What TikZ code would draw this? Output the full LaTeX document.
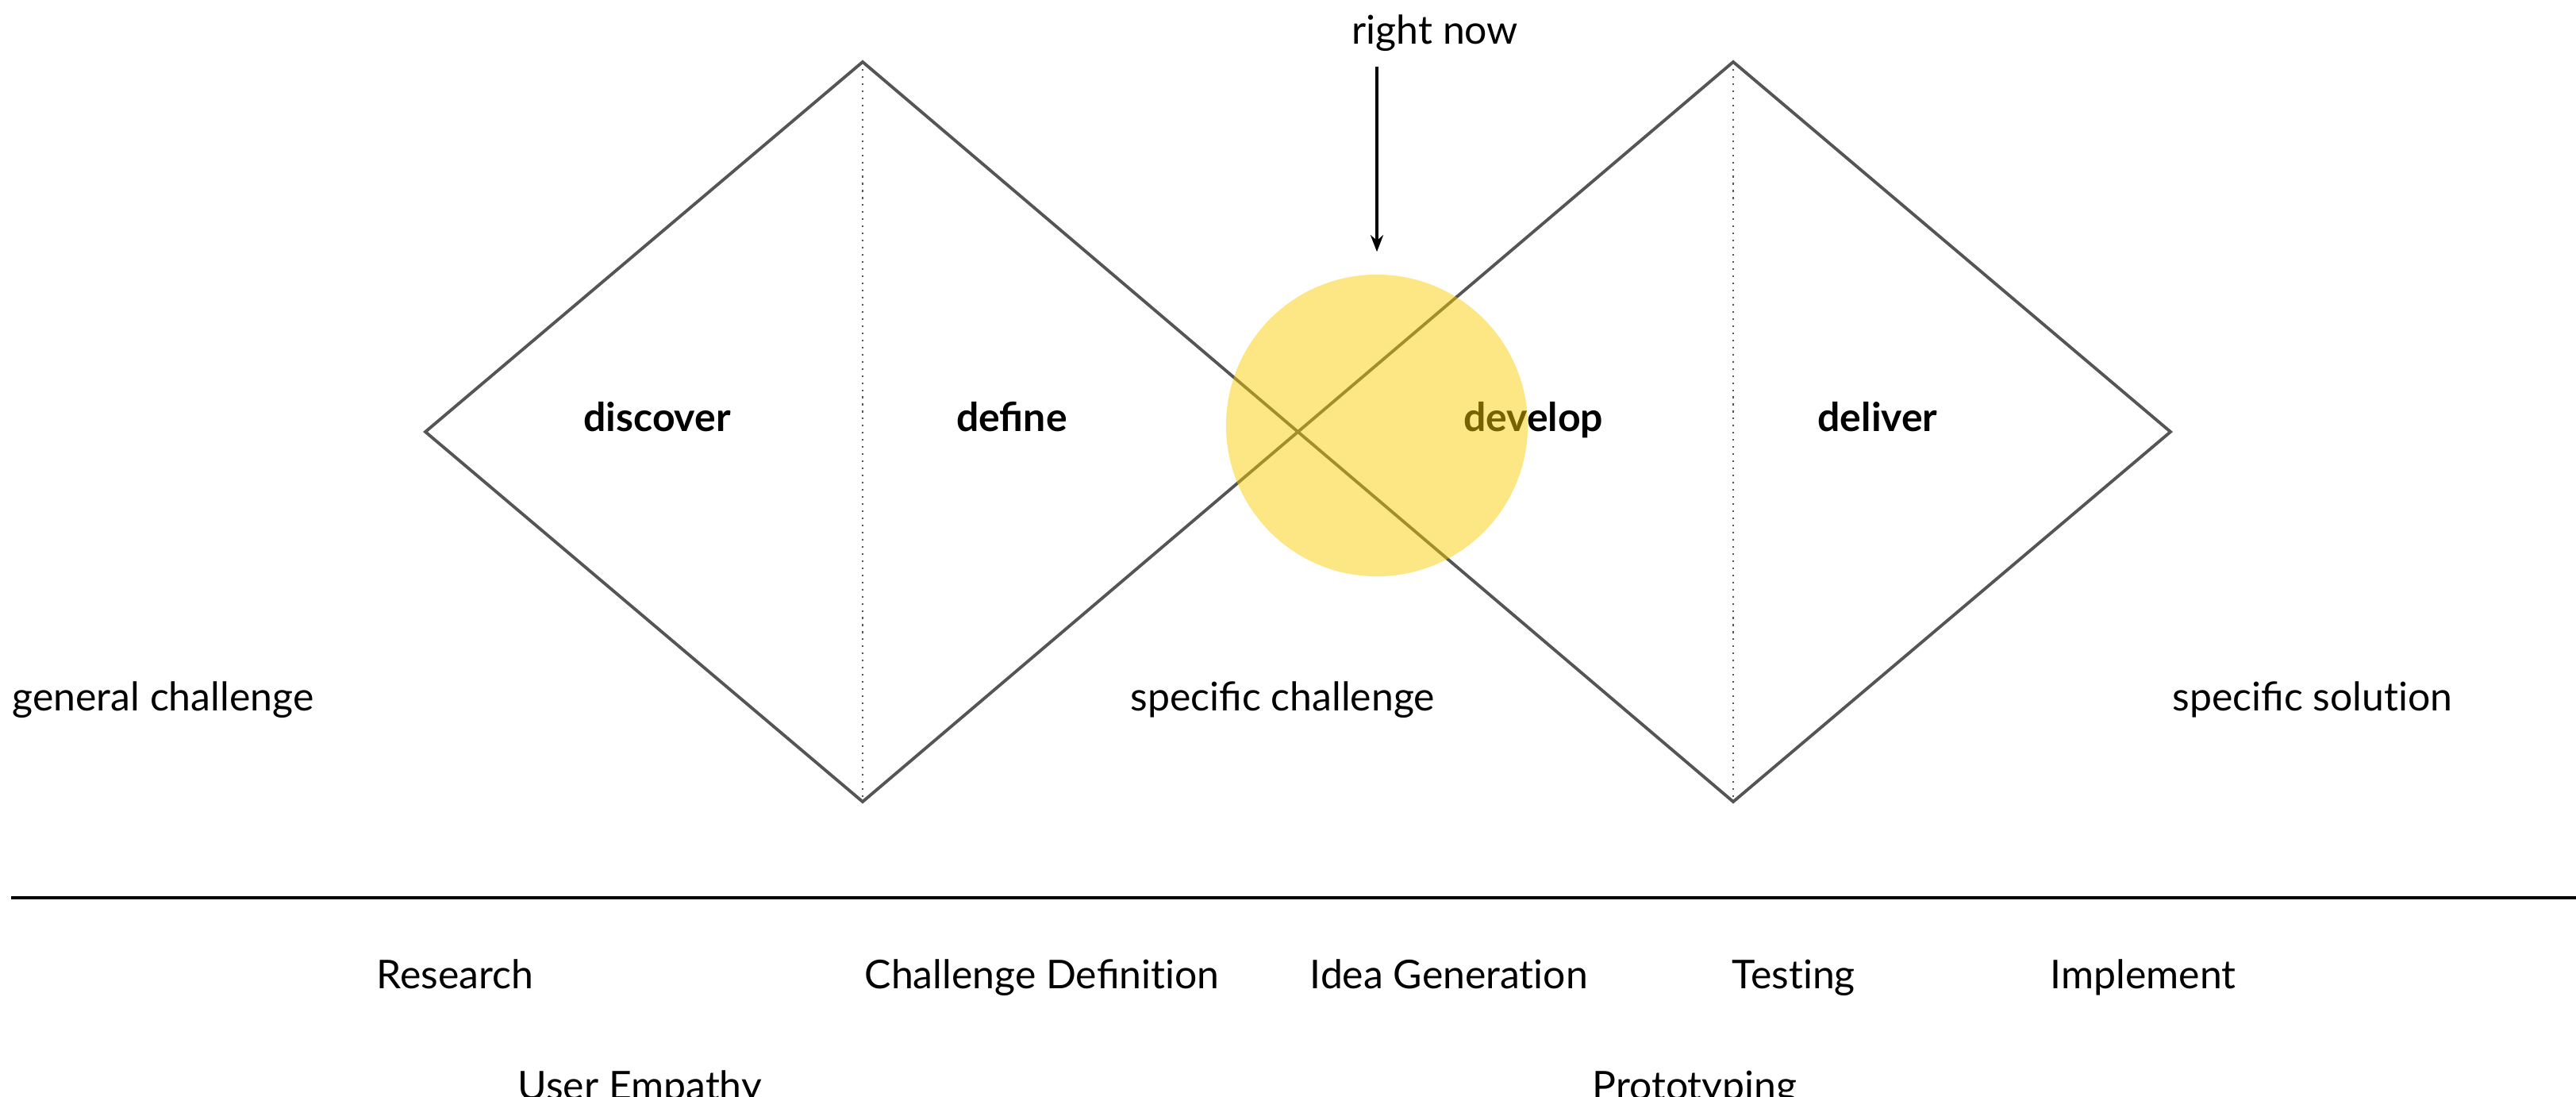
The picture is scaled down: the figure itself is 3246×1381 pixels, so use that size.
\documentclass[tikz,border=0pt]{standalone}
\usepackage{fontspec}
\setmainfont{Lato}
\usetikzlibrary{arrows.meta, positioning, calc}
\definecolor{dgray}{RGB}{85,85,85}
\definecolor{spotyellow}{RGB}{250,205,0}
% keep t and i apart (no ti ligature)
\newcommand{\tisep}{t\kern0pt i}

\begin{document}
\begin{tikzpicture}[
    x=0.01cm, y=-0.01cm,
    dline/.style={draw=dgray, line width=1.1pt, line join=miter},
    dotline/.style={draw=dgray, line width=0.6pt, dash pattern=on 0.6pt off 1.95pt},
    lbl/.style={font=\fontsize{14.2}{17}\selectfont, inner sep=0pt, anchor=base west},
    phase/.style={font=\fontsize{14.2}{17}\selectfont\bfseries, inner sep=0pt, anchor=base},
    spotc/.style={circle, minimum size=3.8cm, inner sep=0pt, fill=spotyellow, fill opacity=0.48},
    nowarrow/.style={-{Stealth[length=6pt, width=4.6pt]}, line width=0.9pt, black}
]
\useasboundingbox (0,0) rectangle (3246,1381);
% double diamond
\coordinate (w) at (536,544);
\coordinate (ltop) at (1087,78);
\coordinate (lbot) at (1087,1010);
\coordinate (rtop) at (2184,78);
\coordinate (rbot) at (2184,1010);
\coordinate (e) at (2735,544);
\draw[dline] (w) -- (ltop) -- (rbot) -- (e) -- (rtop) -- (lbot) -- cycle;
\draw[dotline] (ltop) -- (lbot);
\draw[dotline] (rtop) -- (rbot);
\node[phase] (disc) at (828,543) {discover};
\node[phase] (defi) at (1275,543) {define};
\node[phase] (deve) at (1932,543) {develop};
\node[phase] (deli) at (2366,543) {deliver};
\node[lbl] (gen) at (15,895) {general challenge};
\node[lbl] (spch) at (1424,895) {specific challenge};
\node[lbl] (spsol) at (2737,895) {specific solu\tisep on};
% timeline
\coordinate (tl) at (14,1131);
\coordinate (tr) at (3246,1131);
\draw[line width=0.95pt] (tl) -- (tr);
\node[lbl] (res) at (474,1245) {Research};
\node[lbl] (chdef) at (1089,1245) {Challenge Defini\tisep on};
\node[lbl] (idea) at (1650,1245) {Idea Genera\tisep on};
\node[lbl] (test) at (2182,1245) {Tes\tisep ng};
\node[lbl] (impl) at (2583,1245) {Implement};
\node[lbl] (user) at (652,1385) {User Empathy};
\node[lbl] (proto) at (2006,1385) {Prototyping};
% where we are
\node[spotc] (spot) at (1735,536) {};
\node[lbl] (now) at (1703,55) {right now};
\draw[nowarrow, shorten <=0.19cm, shorten >=0.28cm] (now.south -| spot) -- (spot.north);
\end{tikzpicture}
\end{document}
